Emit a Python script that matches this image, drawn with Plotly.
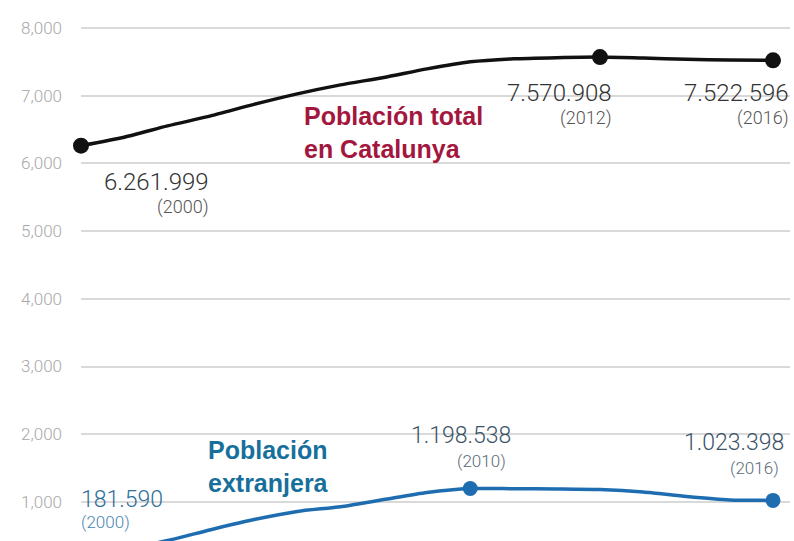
import plotly.graph_objects as go

# ---- data (thousands of inhabitants) ----
years = list(range(2000, 2017))
total_pop = [6261.999, 6387, 6554, 6702, 6872, 7027, 7160, 7270, 7396, 7500,
             7545, 7562, 7570.908, 7555, 7538, 7527, 7522.596]
foreign_pop = [181.590, 300, 430, 590, 740, 860, 930, 1035, 1140, 1198.538,
               1196, 1192, 1183, 1146, 1080, 1030, 1023.398]

total_marks = [0, 12, 16]          # indices of highlighted points
total_mark_years = ["2000", "2012", "2016"]
foreign_marks = [0, 9, 16]
foreign_mark_years = ["2000", "2010", "2016"]

y_ticks = [1000, 2000, 3000, 4000, 5000, 6000, 7000, 8000]
y_tick_text = ["1,000", "2,000", "3,000", "4,000", "5,000", "6,000", "7,000", "8,000"]

title_total = "Población total<br>en Catalunya"
title_foreign = "Población<br>extranjera"

# ---- layout geometry ----
W, H = 794, 541
ML, MR, MT, MB = 81, 4, 20, 0
PW, PH = W - ML - MR, H - MT - MB


def px(x):
    return (x - ML) / PW


def py(y):
    return (H - MB - y) / PH


def fmt(v):
    n = int(round(v * 1000))
    return f"{n:,}".replace(",", ".")


BLACK = "#111111"
BLUE = "#1e6db0"
RED = "#a3173f"
TEAL = "#17709b"

fig = go.Figure()
fig.add_trace(go.Scatter(x=years, y=total_pop, mode="lines",
                         line=dict(color=BLACK, width=3.5, shape="spline", smoothing=0.6),
                         hoverinfo="skip", cliponaxis=False))
fig.add_trace(go.Scatter(x=years, y=foreign_pop, mode="lines",
                         line=dict(color=BLUE, width=3.5, shape="spline", smoothing=0.6),
                         hoverinfo="skip"))
fig.add_trace(go.Scatter(x=[years[i] for i in total_marks], y=[total_pop[i] for i in total_marks],
                         mode="markers", marker=dict(color=BLACK, size=16),
                         hoverinfo="skip", cliponaxis=False))
fig.add_trace(go.Scatter(x=[years[i] for i in foreign_marks], y=[foreign_pop[i] for i in foreign_marks],
                         mode="markers", marker=dict(color=BLUE, size=15),
                         hoverinfo="skip", cliponaxis=False))

num_font = "Roboto, Liberation Sans, Arial, sans-serif"
bold_font = "Liberation Sans, Arial, sans-serif"

anns = []


def label(text, x, y, xanchor, size, color, bold=False):
    anns.append(dict(text=text, x=px(x), y=py(y), xref="paper", yref="paper",
                     xanchor=xanchor, yanchor="middle", showarrow=False,
                     font=dict(family=bold_font if bold else num_font, size=size,
                               color=color, weight=700 if bold else 300),
                     align="left"))


# total population labels
label(fmt(total_pop[total_marks[0]]), 211, 182, "right", 24, "#333333")
label(f"({total_mark_years[0]})", 211, 207, "right", 18, "#555555")
label(fmt(total_pop[total_marks[1]]), 614, 93, "right", 24, "#333333")
label(f"({total_mark_years[1]})", 614, 118, "right", 18, "#555555")
label(fmt(total_pop[total_marks[2]]), 791, 93, "right", 24, "#333333")
label(f"({total_mark_years[2]})", 791, 118, "right", 18, "#555555")
label(title_total, 302, 132, "left", 25, RED, bold=True)

# foreign population labels
label(fmt(foreign_pop[foreign_marks[0]]), 79, 499, "left", 23, "#2f6f99")
label(f"({foreign_mark_years[0]})", 79, 522, "left", 17, "#4a86b0")
label(fmt(foreign_pop[foreign_marks[1]]), 513, 435, "right", 23, "#3b5366")
label(f"({foreign_mark_years[1]})", 508, 461, "right", 17, "#5a6b78")
label(fmt(foreign_pop[foreign_marks[2]]), 786, 442, "right", 23, "#3b5366")
label(f"({foreign_mark_years[2]})", 781, 468, "right", 17, "#5a6b78")
label(title_foreign, 206, 466, "left", 25, TEAL, bold=True)

y_top = 8118
y_span = PH / 67.71 * 1000

fig.update_layout(
    width=W, height=H,
    margin=dict(l=ML, r=MR, t=MT, b=MB, pad=0),
    paper_bgcolor="white", plot_bgcolor="white",
    showlegend=False,
    xaxis=dict(range=[2000, 2000 + PW / 43.25], showgrid=False, zeroline=False,
               showticklabels=False, showline=False, fixedrange=True),
    yaxis=dict(range=[y_top - y_span, y_top], tickvals=y_ticks, ticktext=y_tick_text,
               showgrid=True, gridcolor="#d9d9d9", gridwidth=1.5, zeroline=False,
               showline=False, ticklabelstandoff=18,
               tickfont=dict(family=num_font, size=17, color="#a8a8a8", weight=300),
               fixedrange=True),
    annotations=anns,
)

fig.write_html("out.html", config={"displayModeBar": False},
               post_script="document.body.style.margin='0';document.body.style.overflow='hidden';")
